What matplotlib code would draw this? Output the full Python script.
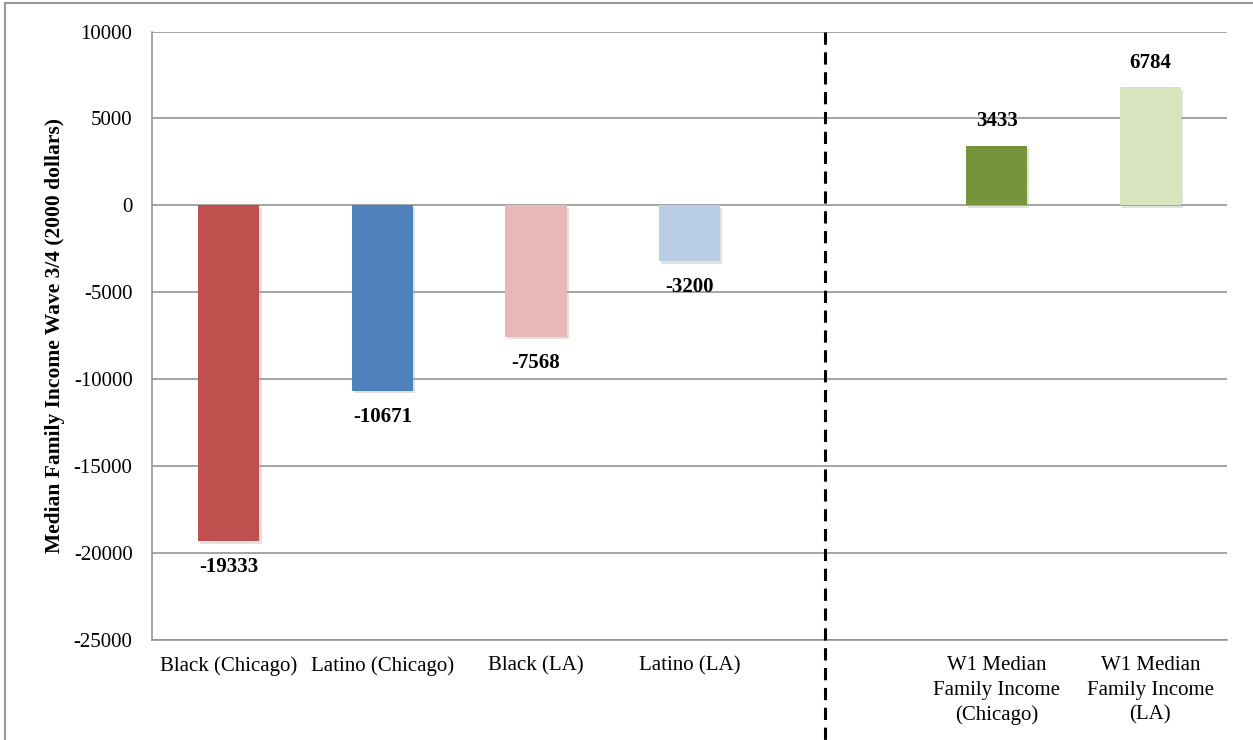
import matplotlib.pyplot as plt
import matplotlib.patheffects as pe
from matplotlib.lines import Line2D

# data
categories = ["Black (Chicago)", "Latino (Chicago)", "Black (LA)", "Latino (LA)", "",
              "W1 Median\nFamily Income\n(Chicago)", "W1 Median\nFamily Income\n(LA)"]
bar_slots = [0, 1, 2, 3, 5, 6]
values = [-19333, -10671, -7568, -3200, 3433, 6784]
colors = ["#C0504D", "#4F81BD", "#E6B9B8", "#B9CDE5", "#77933C", "#D7E4BD"]

plt.rcParams['font.family'] = ['Liberation Serif', 'DejaVu Serif']
plt.rcParams['font.size'] = 15
plt.rcParams['axes.unicode_minus'] = False

fig = plt.figure(figsize=(12.53, 7.40), dpi=100)
ax = fig.add_axes([0.1213, 0.1358, 0.858, 0.8216])

grey = "#8c8c8c"
ax.set_ylim(-25000, 10000)
ax.set_xlim(-0.5, 6.5)
ax.set_yticks(range(-25000, 10001, 5000))
ax.yaxis.grid(True, color=grey, linewidth=1.1)
ax.set_axisbelow(True)

bars = ax.bar(bar_slots, values, width=0.40, color=colors, zorder=3)
for b in bars:
    b.set_path_effects([pe.SimplePatchShadow(offset=(1.5, -2), shadow_rgbFace="#aaaaaa", alpha=0.35),
                        pe.Normal()])

# value labels: above positive bars, below negative ones
for x, v in zip(bar_slots, values):
    off = 17.5 if v > 0 else -19
    ax.annotate(str(v), (x, v), xytext=(0, off), textcoords="offset points",
                ha="center", va="center", fontweight="bold", fontsize=15, zorder=4)

ax.set_xticks(range(len(categories)))
ax.set_xticklabels(categories, linespacing=1.4)
ax.tick_params(axis="x", length=0, pad=12)
ax.tick_params(axis="y", length=0, pad=14)

for s in ["top", "right"]:
    ax.spines[s].set_visible(False)
for s in ["left", "bottom"]:
    ax.spines[s].set_color(grey)
    ax.spines[s].set_linewidth(1.1)

# dashed separator running below the axis
ax.plot([3.88, 3.88], [10000, -30800], color="black", linewidth=2.2,
        linestyle=(0, (4, 2.5)), clip_on=False, zorder=5)

ax.set_ylabel("Median Family Income Wave 3/4 (2000 dollars)", fontweight="bold",
              fontsize=15.5, labelpad=6)

# chart border
fig.add_artist(Line2D([5/1253, 1.0], [1 - 3/740, 1 - 3/740], color="#999999", linewidth=1.5))
fig.add_artist(Line2D([5/1253, 5/1253], [0, 1 - 3/740], color="#999999", linewidth=1.5))

fig.savefig("out.png", dpi=100)
